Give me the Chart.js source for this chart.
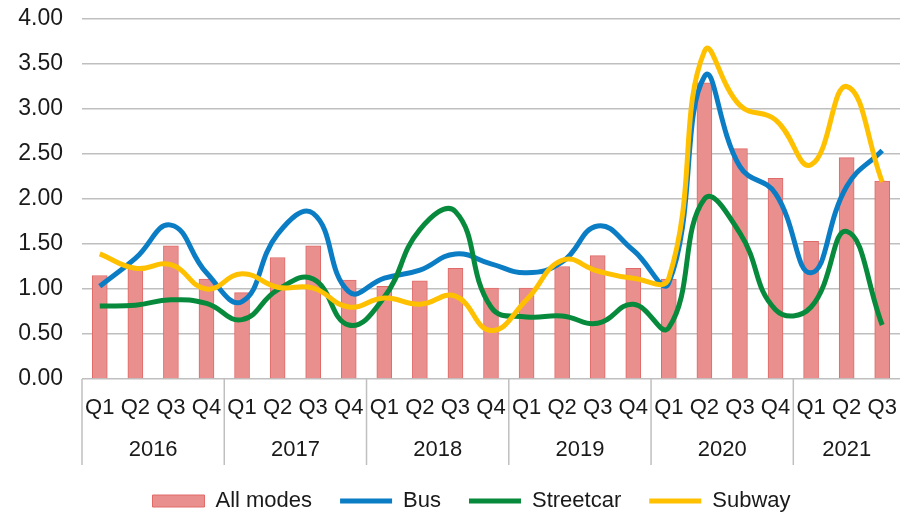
<!DOCTYPE html>
<html>
<head>
<meta charset="utf-8">
<script src="https://cdn.jsdelivr.net/npm/chart.js@4/dist/chart.umd.min.js"></script>
<style>
  html, body { margin: 0; padding: 0; background: #fff; }
  #wrap { width: 900px; height: 514px; }
</style>
</head>
<body>
<div id="wrap"><canvas id="chart"></canvas></div>
<script>
/* DATA */
const years = ["2016", "2017", "2018", "2019", "2020", "2021"];
const quartersPerYear = [4, 4, 4, 4, 4, 3];
const quarters = ["Q1","Q2","Q3","Q4","Q1","Q2","Q3","Q4","Q1","Q2","Q3","Q4",
  "Q1","Q2","Q3","Q4","Q1","Q2","Q3","Q4","Q1","Q2","Q3"];

const allModes = [1.15, 1.22, 1.48, 1.11, 0.96, 1.35, 1.48, 1.10, 1.03, 1.09, 1.23, 1.01,
  1.01, 1.25, 1.37, 1.23, 1.11, 3.29, 2.56, 2.23, 1.53, 2.46, 2.20];
const bus = [1.03, 1.34, 1.71, 1.18, 0.86, 1.61, 1.84, 0.97, 1.12, 1.21, 1.39, 1.28,
  1.18, 1.30, 1.70, 1.43, 1.07, 3.36, 2.36, 2.06, 1.18, 2.14, 2.54];
const streetcar = [0.81, 0.82, 0.88, 0.84, 0.66, 0.99, 1.11, 0.60, 0.91, 1.66, 1.86, 0.80,
  0.69, 0.70, 0.62, 0.83, 0.57, 2.00, 1.62, 0.77, 0.80, 1.64, 0.60];
const subway = [1.39, 1.23, 1.27, 1.00, 1.17, 1.02, 1.01, 0.80, 0.90, 0.83, 0.92, 0.54,
  0.88, 1.32, 1.20, 1.12, 1.12, 3.64, 3.04, 2.88, 2.38, 3.25, 2.19];

const FONT = "'Liberation Sans', Arial, sans-serif";
const TEXT = "#1a1a1a";
const GRID = "#bfbfbf";

/* YEAR ROW UNDER THE QUARTERS */
const yearRow = {
  id: "yearRow",
  afterLayout(chart) {
    // legend sits a bit right of the canvas centre in the original
    chart.legend.left += 40;
  },
  afterDraw(chart) {
    const x = chart.scales.x;
    const ctx = chart.ctx;
    const top = chart.chartArea.bottom;
    const half = (x.getPixelForValue(1) - x.getPixelForValue(0)) / 2;
    ctx.save();
    ctx.strokeStyle = GRID;
    ctx.lineWidth = 1.5;
    ctx.fillStyle = TEXT;
    ctx.font = "22px " + FONT;
    ctx.textAlign = "center";
    ctx.textBaseline = "middle";
    let start = 0;
    years.forEach((y, i) => {
      const end = start + quartersPerYear[i] - 1;
      const left = x.getPixelForValue(start) - half;
      const right = x.getPixelForValue(end) + half;
      ctx.beginPath();
      ctx.moveTo(left, top);
      ctx.lineTo(left, top + 86);
      ctx.stroke();
      ctx.fillText(y, (left + right) / 2, top + 71);
      start = end + 1;
    });
    ctx.restore();
  },
};

new Chart(document.getElementById("chart"), {
  data: {
    labels: quarters,
    datasets: [
      {
        type: "bar",
        label: "All modes",
        data: allModes,
        backgroundColor: "#e98f8d",
        borderColor: "#e06a68",
        borderWidth: 1,
        barThickness: 15,
        pointStyle: "rect",
        order: 4,
      },
      {
        type: "line",
        label: "Bus",
        data: bus,
        borderColor: "#0b7dc4",
        backgroundColor: "#0b7dc4",
        borderWidth: 5,
        tension: 0.45,
        pointRadius: 0,
        pointStyle: "line",
        order: 3,
      },
      {
        type: "line",
        label: "Streetcar",
        data: streetcar,
        borderColor: "#088a3c",
        backgroundColor: "#088a3c",
        borderWidth: 5,
        tension: 0.45,
        pointRadius: 0,
        pointStyle: "line",
        order: 2,
      },
      {
        type: "line",
        label: "Subway",
        data: subway,
        borderColor: "#ffc000",
        backgroundColor: "#ffc000",
        borderWidth: 5,
        tension: 0.45,
        pointRadius: 0,
        pointStyle: "line",
        order: 1,
      },
    ],
  },
  options: {
    responsive: true,
    maintainAspectRatio: false,
    animation: false,
    layout: { padding: { top: 19, left: 0, right: -3, bottom: -8 } },
    plugins: {
      tooltip: { enabled: false },
      legend: {
        position: "bottom",
        labels: {
          usePointStyle: true,
          pointStyleWidth: 52,
          boxHeight: 12,
          padding: 28,
          color: TEXT,
          font: { family: FONT, size: 22 },
          sort: (a, b) => a.datasetIndex - b.datasetIndex,
        },
      },
    },
    scales: {
      x: {
        grid: { display: false, drawTicks: false },
        border: { display: false },
        ticks: {
          color: TEXT,
          font: { family: FONT, size: 22 },
          padding: 16,
          maxRotation: 0,
          minRotation: 0,
          autoSkip: false,
        },
        afterFit: (s) => {
          s.height = 83;
          s.paddingLeft = 0;
          s.paddingRight = 0;
        },
      },
      y: {
        min: 0,
        max: 4,
        grid: { color: GRID, lineWidth: 1.5, drawTicks: false },
        border: { display: false },
        ticks: {
          stepSize: 0.5,
          color: TEXT,
          font: { family: FONT, size: 23 },
          padding: 19,
          callback: (v) => v.toFixed(2),
        },
        afterFit: (s) => {
          s.width = 82;
          s.paddingTop = 0;
          s.paddingBottom = 0;
        },
      },
    },
  },
  plugins: [yearRow],
});
</script>
</body>
</html>
